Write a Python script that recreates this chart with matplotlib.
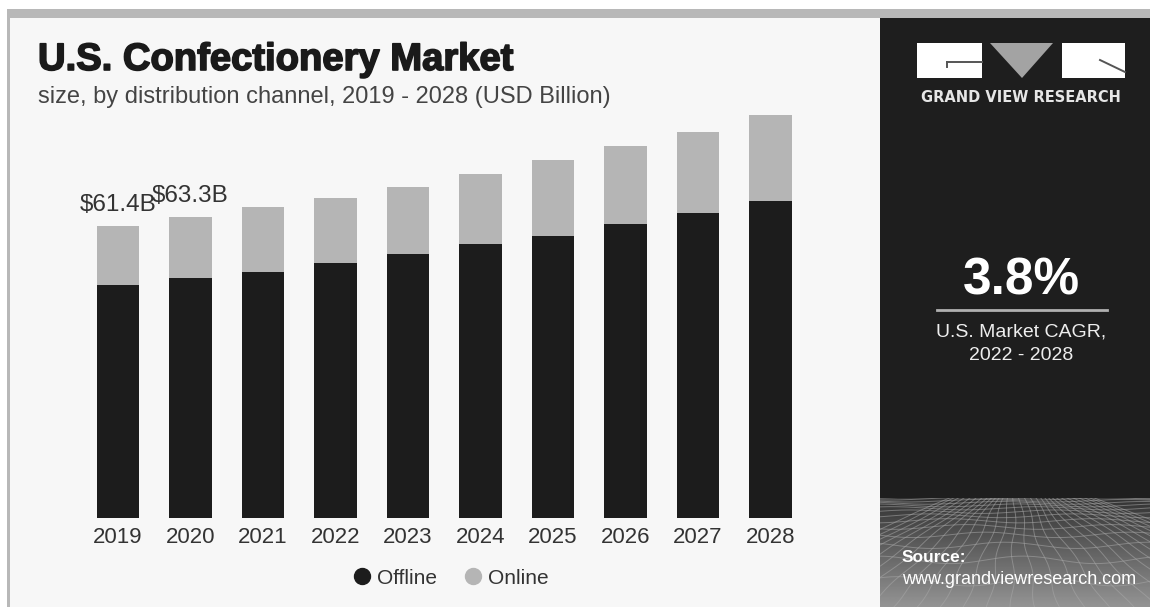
import numpy as np
import matplotlib.pyplot as plt
import matplotlib.patheffects as pe
from matplotlib.lines import Line2D
from matplotlib.patches import Rectangle, Polygon

plt.rcParams['font.family'] = ['Liberation Sans', 'DejaVu Sans']

# market size by channel, USD billion
years = ["2019", "2020", "2021", "2022", "2023", "2024", "2025", "2026", "2027", "2028"]
offline = [49.0, 50.5, 51.7, 53.6, 55.5, 57.6, 59.3, 61.8, 64.1, 66.7]
online = [12.4, 12.8, 13.7, 13.7, 14.1, 14.8, 16.0, 16.5, 17.1, 18.1]
labelled_years = ["2019", "2020"]

OFFLINE_C = '#1c1c1c'
ONLINE_C = '#b5b5b5'
TEXT_C = '#333333'

W, H = 1150, 607
fig = plt.figure(figsize=(W / 100, H / 100), dpi=100)
fig.patch.set_facecolor('white')

# pixel-space canvas for panels and decorations
bg = fig.add_axes([0, 0, 1, 1])
bg.set_xlim(0, W)
bg.set_ylim(H, 0)
bg.axis('off')

bg.add_patch(Rectangle((7, 9), W - 7, H - 9, color='#b8b8b8', lw=0))
bg.add_patch(Rectangle((9.5, 18), 880 - 9.5, H - 18, color='#f7f7f7', lw=0))
bg.add_patch(Rectangle((880, 18), W - 880, H - 18, color='#1e1e1e', lw=0))

# shaded floor with a perspective mesh in the bottom of the side panel
grad = np.linspace(0.2, 0.58, 120).reshape(-1, 1)
bg.imshow(grad, extent=(880, W, H, 498), cmap='gray', vmin=0, vmax=1,
          aspect='auto', interpolation='bilinear', zorder=1)
floor = Rectangle((880, 498), W - 880, H - 498, transform=bg.transData,
                  fill=False, lw=0)
hx = np.linspace(880, W, 200)
for z in np.linspace(70, 13, 15):
    y = 470 + 1900 / z + 2.5 * np.sin(hx / 23 + z / 5) * (1900 / z) / 60
    ln, = bg.plot(hx, y, color='#a8a8a8', lw=0.7, alpha=0.55, zorder=2)
    ln.set_clip_path(floor)
for bx in np.arange(700, 1400, 24):
    ys = np.linspace(470, H, 80)
    t = (ys - 470) / (H - 470)
    xs = 1015 + (bx - 1015) * t + 2.0 * np.sin(ys / 9 + bx / 40)
    ln, = bg.plot(xs, ys, color='#a8a8a8', lw=0.7, alpha=0.55, zorder=2)
    ln.set_clip_path(floor)

# logo
bg.add_patch(Rectangle((917, 43), 65, 35, color='white', lw=0, zorder=3))
bg.add_patch(Polygon([(990, 43), (1053, 43), (1022, 78)], closed=True,
                     color='#a3a3a3', lw=0, zorder=3))
bg.add_patch(Rectangle((1062, 43), 63, 35, color='white', lw=0, zorder=3))
bg.plot([947, 982], [62, 62], color='#555555', lw=1.4, zorder=4)
bg.plot([947, 947], [62, 67], color='#555555', lw=1.4, zorder=4)
bg.plot([1100, 1125], [60, 72], color='#555555', lw=1.4, zorder=4)
bg.text(1021, 97, "GRAND VIEW RESEARCH", color='#e6e6e6', fontsize=10.5,
        fontweight='bold', ha='center', va='center', family='DejaVu Sans', zorder=4)

# CAGR callout
bg.text(1021, 281, "3.8%", color='white', fontsize=37, fontweight='bold',
        ha='center', va='center', zorder=4)
bg.plot([937, 1107], [310, 310], color='#b0b0b0', lw=2, zorder=4)
bg.text(1021, 332, "U.S. Market CAGR,", color='#eeeeee', fontsize=14,
        ha='center', va='center', zorder=4)
bg.text(1021, 356, "2022 - 2028", color='#eeeeee', fontsize=14,
        ha='center', va='center', zorder=4)

bg.text(902, 557, "Source:", color='white', fontsize=12.5, fontweight='bold',
        ha='left', va='center', zorder=4)
bg.text(902, 579, "www.grandviewresearch.com", color='white', fontsize=13,
        ha='left', va='center', zorder=4)

# headings
bg.text(38, 60, "U.S. Confectionery Market", color='#1a1a1a', fontsize=27.5,
        fontweight='bold', ha='left', va='center',
        path_effects=[pe.withStroke(linewidth=1.2, foreground='#1a1a1a')])
bg.text(38, 97, "size, by distribution channel, 2019 - 2028 (USD Billion)",
        color='#444444', fontsize=17, ha='left', va='center')

# stacked bars
ax = fig.add_axes([81.75 / W, 89.5 / H, 725 / W, 427.2 / H])
ax.set_facecolor('none')
x = np.arange(len(years))
ax.bar(x, offline, width=0.58, color=OFFLINE_C, zorder=2)
ax.bar(x, online, width=0.58, bottom=offline, color=ONLINE_C, zorder=2)
ax.set_xlim(-0.5, len(years) - 0.5)
ax.set_ylim(0, 90)
ax.set_xticks(x)
ax.set_xticklabels(years, fontsize=16, color=TEXT_C)
ax.tick_params(axis='x', length=0, pad=7)
ax.set_yticks([])
for s in ax.spines.values():
    s.set_visible(False)

for i, yr in enumerate(years):
    if yr in labelled_years:
        total = offline[i] + online[i]
        ax.annotate(f"\\${total:.1f}B", (i, total), xytext=(0, 11),
                    textcoords='offset points', ha='center', va='baseline',
                    fontsize=17.5, color=TEXT_C)

handles = [Line2D([], [], marker='o', ls='none', color=OFFLINE_C, markersize=11.5),
           Line2D([], [], marker='o', ls='none', color=ONLINE_C, markersize=11.5)]
leg = fig.legend(handles, ["Offline", "Online"], loc='center', ncol=2,
                 bbox_to_anchor=(451 / W, 1 - 578 / H), frameon=False,
                 fontsize=15, handlelength=0.8, handletextpad=0.35,
                 columnspacing=1.3)
for t in leg.get_texts():
    t.set_color(TEXT_C)

fig.savefig('out.png', dpi=100)
